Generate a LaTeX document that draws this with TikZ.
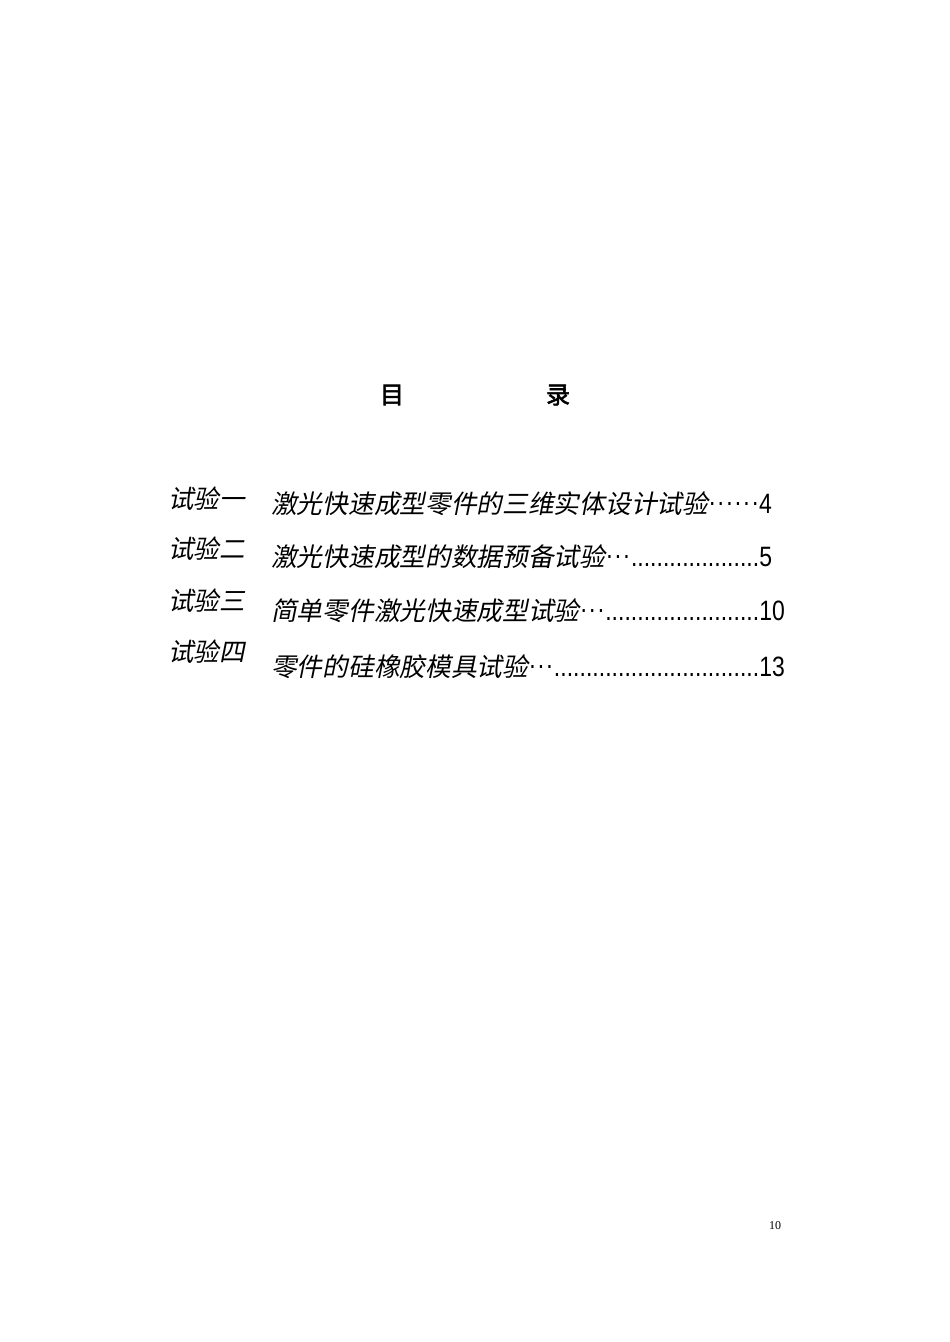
\documentclass[tikz,border=0pt]{standalone}
\usepackage{fontspec}
\newfontfamily\cjk{Noto Sans CJK SC}[FakeSlant=0.2]
\newfontfamily\cjktitle{Noto Sans CJK SC}[FakeBold=2.5]
\newfontfamily\numf{Liberation Sans}[FakeStretch=0.82]
\setmainfont{Liberation Serif}
\newcommand{\dotsfill}{\numf\fontsize{28}{28}\selectfont\xleaders\hbox{.}\hfill}
\newcommand{\midell}{{\numf\fontsize{28}{28}\selectfont\hbox to 25.7pt{\leaders\hbox to 8.56pt{\hss\raisebox{8pt}{.}\hss}\hfill}}}
\tikzset{
  titletext/.style={inner sep=0pt, font=\cjktitle\fontsize{24}{24}\selectfont},
  labeltext/.style={inner sep=0pt, anchor=base west, font=\cjk\fontsize{25.5}{26}\selectfont},
  entrytext/.style={inner sep=0pt, anchor=base west, font=\cjk\fontsize{25.7}{26}\selectfont},
  pagenum/.style={inner sep=0pt, font=\fontsize{12}{12}\selectfont}
}
\begin{document}
\begin{tikzpicture}[x=1pt,y=-1pt]
\useasboundingbox (0,0) rectangle (950,1342);
\fill[white] (0,0) rectangle (950,1342);
% title
\node[titletext] (t1) at (392,395) {目};
\node[titletext] (t2) at (558,395) {录};
% labels
\node[labeltext] (l1) at (168,508) {试验一};
\node[labeltext] (l2) at (168,558) {试验二};
\node[labeltext] (l3) at (168,610) {试验三};
\node[labeltext] (l4) at (168,661) {试验四};
% entries
\node[entrytext] (e1) at (271,513) {\hbox to 488pt{激光快速成型零件的三维实体设计试验\midell\midell\hfil}\numf\fontsize{28}{28}\selectfont 4};
\node[entrytext] (e2) at (271,566) {\hbox to 488pt{激光快速成型的数据预备试验\midell\dotsfill}\numf\fontsize{28}{28}\selectfont 5};
\node[entrytext] (e3) at (271,620) {\hbox to 488pt{简单零件激光快速成型试验\midell\dotsfill}\numf\fontsize{28}{28}\selectfont 10};
\node[entrytext] (e4) at (271,676) {\hbox to 488pt{零件的硅橡胶模具试验\midell\dotsfill}\numf\fontsize{28}{28}\selectfont 13};
% page number
\node[pagenum] (pn) at (775,1226) {10};
\end{tikzpicture}
\end{document}
